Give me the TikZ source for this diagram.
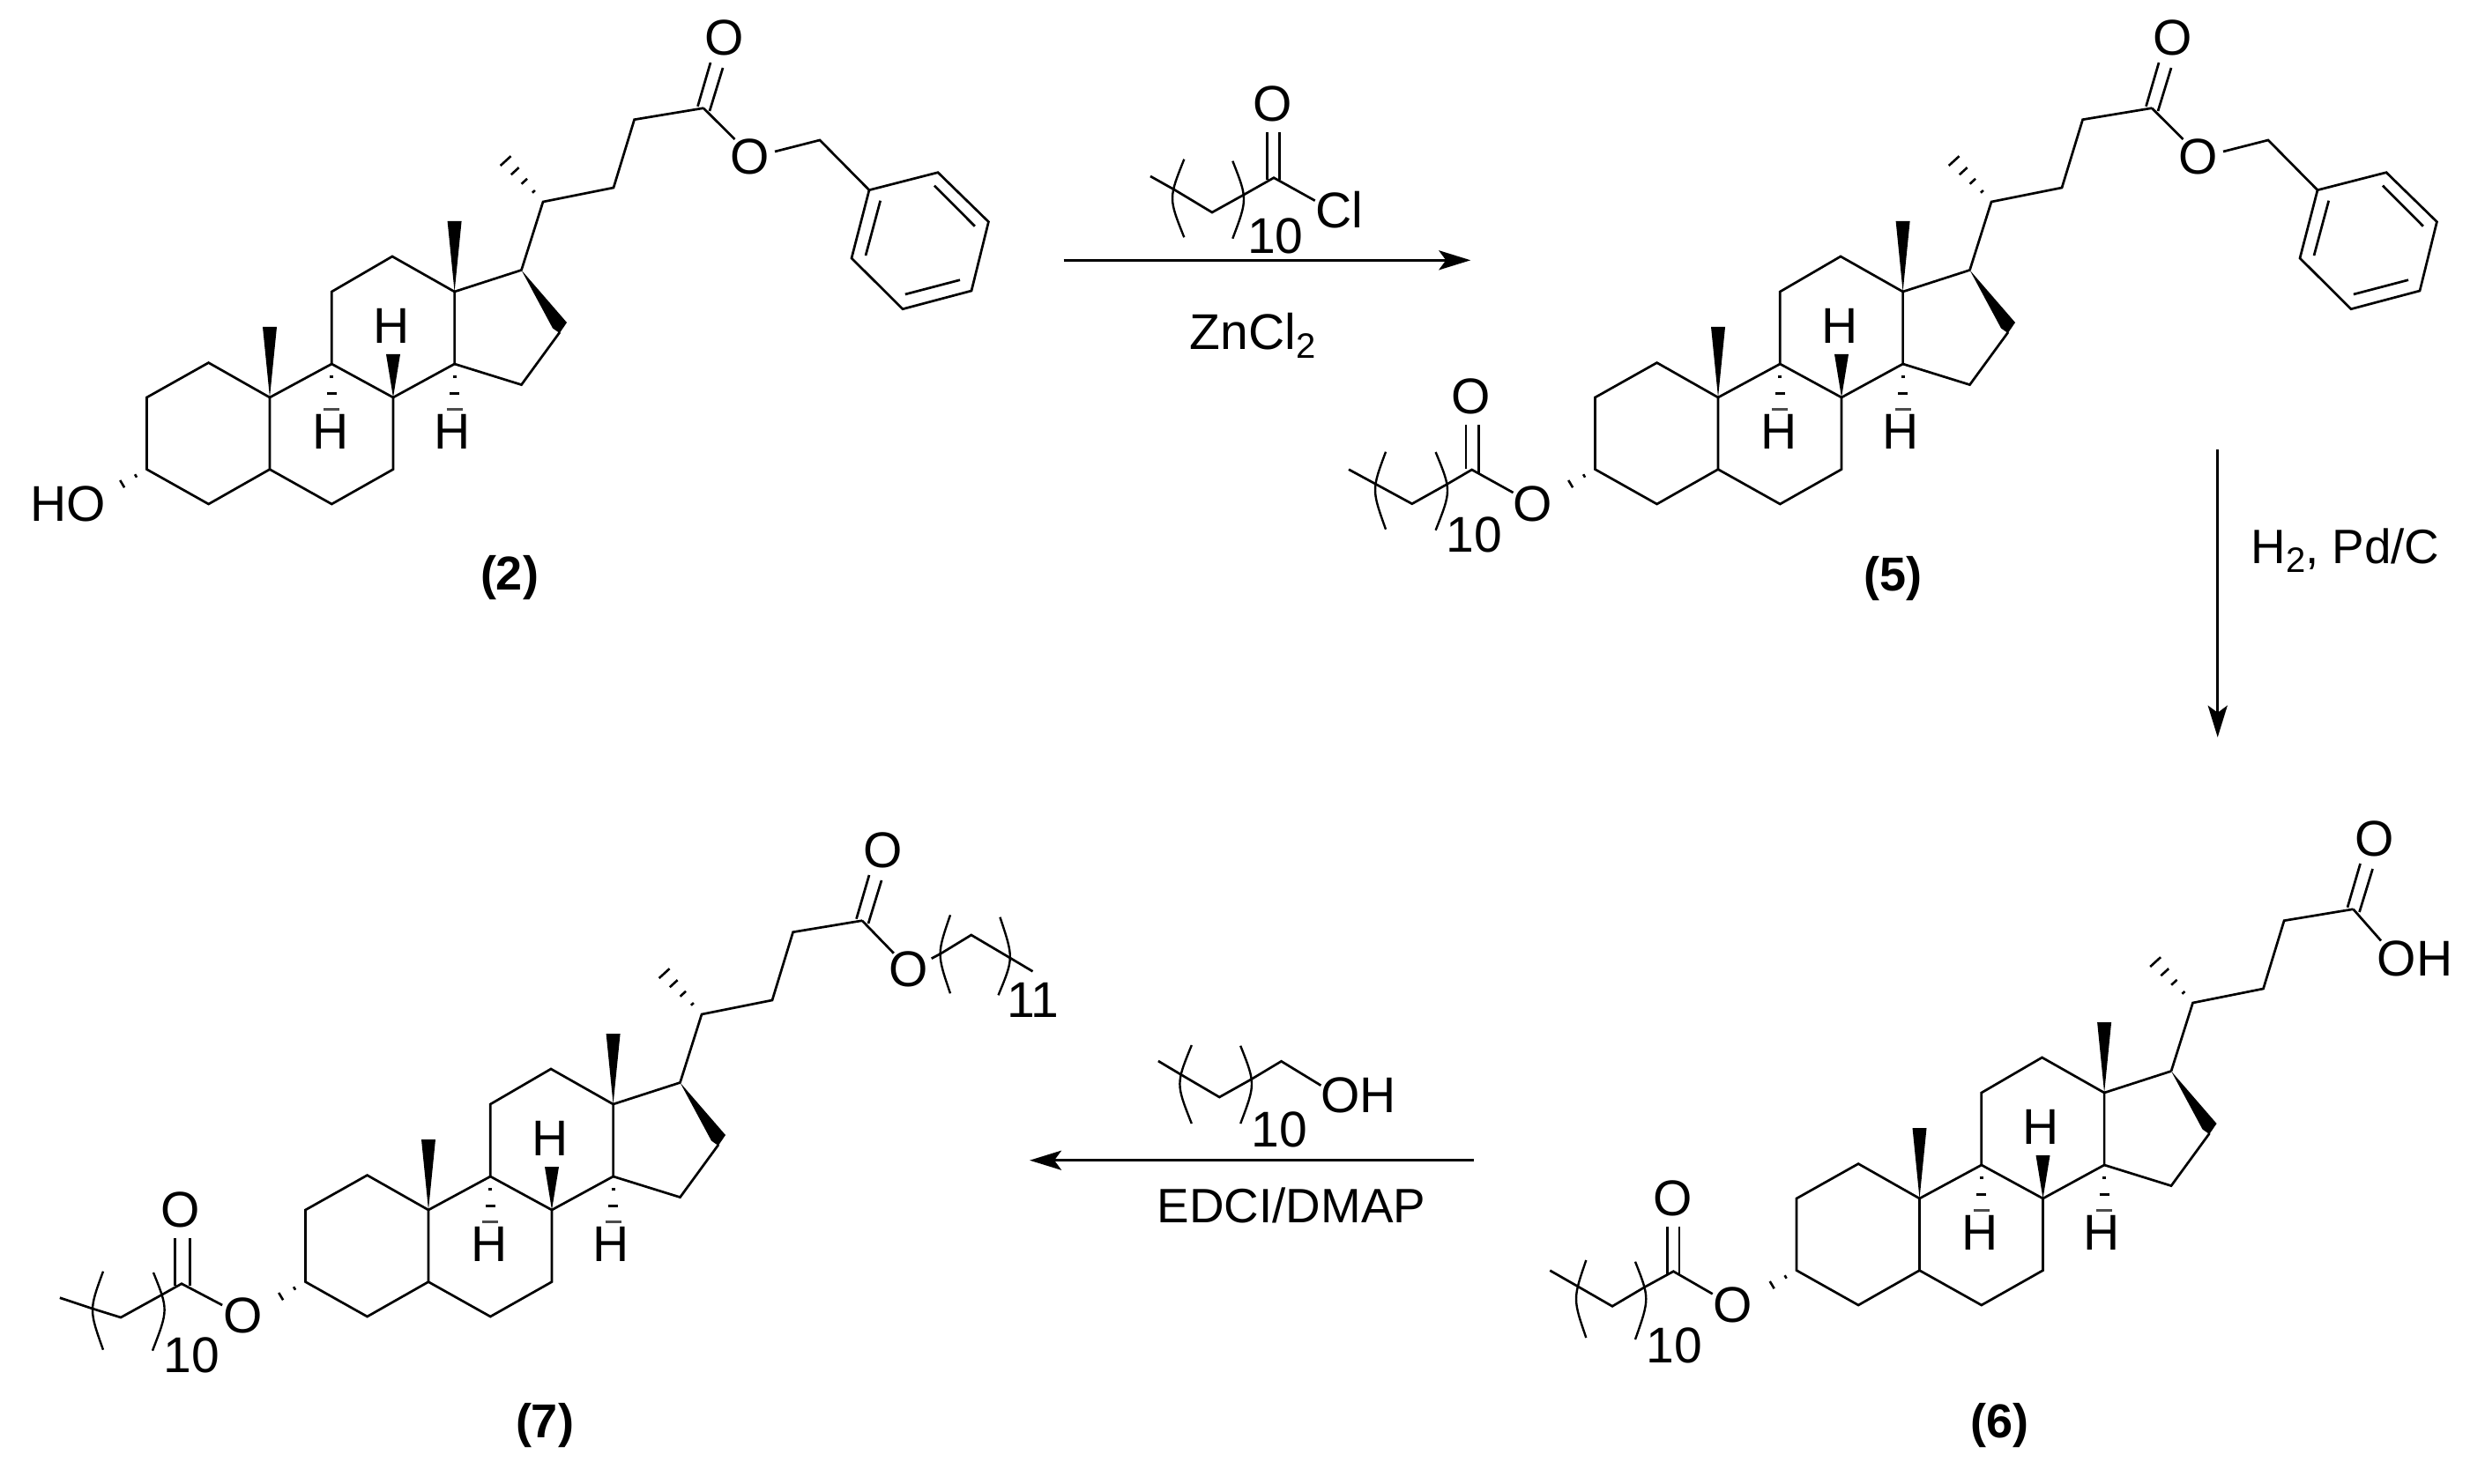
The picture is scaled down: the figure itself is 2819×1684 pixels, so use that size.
\documentclass[tikz,border=0pt]{standalone}
\usepackage{fontspec}
\setmainfont{Liberation Sans}
\usetikzlibrary{calc,arrows.meta}
\tikzset{
  bond/.style={line width=1.35pt,black,line join=miter},
  thinbond/.style={line width=1.2pt,black},
  rxn/.style={line width=1.7pt,black,-{Stealth[length=18pt,width=11pt,inset=4pt]}},
  atom/.style={font=\fontsize{28.5}{30}\selectfont,inner sep=0pt,text=black},
  reagent/.style={font=\fontsize{27.4}{30}\selectfont,inner sep=0pt,text=black},
  cmpd/.style={font=\fontsize{27}{30}\selectfont\bfseries,inner sep=0pt,text=black},
}
\newcommand\subtwo{\raisebox{-5pt}{\fontsize{20}{20}\selectfont 2}}
% a curved bracket through three points
\newcommand\brk[3]{\draw[thinbond] #1 .. controls ($#1!.5!#3!1.333!#2$) .. #3;}
% hashed bond from #1 to #2; #3 is a list of position/half-width
\newcommand\hashb[3]{\foreach \t/\w in {#3}{\draw[line width=1.3pt,black] ($#1!\t!#2!\w pt!90:#2$) -- ($#1!\t!#2!\w pt!-90:#2$);}}
% steroid skeleton with side chain up to the carbonyl C
\newcommand\stcore[1]{
  \coordinate (#1c1) at (236.6,411.6); \coordinate (#1c2) at (166.5,451);
  \coordinate (#1c3) at (166.5,532.6); \coordinate (#1c4) at (236.6,572);
  \coordinate (#1c5) at (306,532.6);   \coordinate (#1c6) at (376.3,572);
  \coordinate (#1c7) at (446,532.6);   \coordinate (#1c8) at (446,451);
  \coordinate (#1c9) at (376.3,413);   \coordinate (#1c10) at (306,451);
  \coordinate (#1c11) at (376.3,331);  \coordinate (#1c12) at (445,291);
  \coordinate (#1c13) at (515.6,331);  \coordinate (#1c14) at (515.6,413);
  \coordinate (#1c15) at (591.5,436.6);\coordinate (#1c16) at (635,377);
  \coordinate (#1c17) at (591.5,306.5);\coordinate (#1c20) at (616,229);
  \coordinate (#1c21) at (563,171);    \coordinate (#1c22) at (696,213);
  \coordinate (#1c23) at (719.6,135.7);\coordinate (#1c24) at (798,122.7);
  \draw[bond] (#1c10) -- (#1c1) -- (#1c2) -- (#1c3) -- (#1c4) -- (#1c5) -- cycle;
  \draw[bond] (#1c5) -- (#1c6) -- (#1c7) -- (#1c8) -- (#1c9) -- (#1c10);
  \draw[bond] (#1c9) -- (#1c11) -- (#1c12) -- (#1c13) -- (#1c14) -- (#1c8);
  \draw[bond] (#1c14) -- (#1c15) -- (#1c16);
  \draw[bond] (#1c13) -- (#1c17);
  \draw[bond] (#1c17) -- (#1c20) -- (#1c22) -- (#1c23) -- (#1c24);
  \draw[bond] (806,71) -- (791.5,120.7) (820,77) -- (805,126);
  \fill[black] (#1c13) -- (507.6,251) -- (523.6,251) -- cycle;
  \fill[black] (#1c10) -- (298,371) -- (314,371) -- cycle;
  \fill[black] (#1c8) -- (438,402) -- (454,402) -- cycle;
  \fill[black] (#1c17) -- (643,366) -- (634.8,378) -- (627,372.5) -- cycle;
  \coordinate (#1c2h) at (123.7,558);
  \hashb{(#1c3)}{(#1c2h)}{0.29/1,0.65/2.4,1/4}
  \hashb{(#1c20)}{(#1c21)}{0.2/1,0.4/2.2,0.6/3,0.8/4,1/5}
  \foreach \x in {376.3,515.6}{
    \draw[line width=1.3pt,black] (\x-2,427.7) -- (\x+2,427.7);
    \draw[line width=1.3pt,black] (\x-5.5,446.4) -- (\x+5.5,446.4);
    \draw[line width=1.6pt,black!70] (\x-9,464.3) -- (\x+9,464.3);
  }
  \node[atom] (#1ha) at (444,370) {H};
  \node[atom] (#1hb) at (375,490) {H};
  \node[atom] (#1hc) at (513,490) {H};
}
% carbonyl O and ester O of the benzyl ester
\newcommand\carbonylO[1]{\node[atom] (#1ocarb) at (822,42.5) {O};}
\newcommand\benzyl[1]{
  \carbonylO{#1}
  \node[atom] (#1oest) at (851,178) {O};
  \coordinate (#1ch2) at (930,159);
  \coordinate (#1r1) at (986,215.7); \coordinate (#1r2) at (1064,195.7);
  \coordinate (#1r3) at (1121.4,251.7); \coordinate (#1r4) at (1102,330);
  \coordinate (#1r5) at (1024,350.7); \coordinate (#1r6) at (966,293);
  \draw[bond] (#1c24) -- (833.5,158);
  \draw[bond] (879,172) -- (#1ch2) -- (#1r1);
  \draw[bond] (#1r1) -- (#1r2) -- (#1r3) -- (#1r4) -- (#1r5) -- (#1r6) -- cycle;
  \draw[bond] (998.7,227.7) -- (982,290) (1060,210.7) -- (1105.8,256.7) (1089,317.7) -- (1026.8,334);
}
\begin{document}
\begin{tikzpicture}[x=0.5pt,y=-0.5pt]
\useasboundingbox (0,0) rectangle (2819,1684);
\fill[white] (0,0) rectangle (2819,1684);

% ---------- (2)
\begin{scope}
  \stcore{a}
  \benzyl{a}
  \node[atom] (aho) at (77,572) {HO};
  \node[cmpd] (alab) at (578,656) {(2)};
\end{scope}

% ---------- (5)
\begin{scope}[shift={(1643,0)}]
  \stcore{b}
  \benzyl{b}
  \node[cmpd] (blab) at (504,657) {(5)};
\end{scope}
\node[atom] (boa) at (1738.8,571.7) {O};
\node[atom] (bob) at (1668.7,450) {O};
\node[atom] (bten) at (1672,607) {10};
\coordinate (bk) at (1669.6,533);
\draw[bond] (1530,532.7) -- (1560,549) -- (1601.8,571.7) -- (1640.6,550) -- (bk) -- (1716.5,559);
\draw[bond] (1663,482) -- (1663,532) (1677.7,482) -- (1677.7,537);
\brk{(1572,512.7)}{(1560,556)}{(1572,600.7)}
\brk{(1628.6,513)}{(1642,556.7)}{(1628.6,601.7)}

% ---------- (6)
\begin{scope}[shift={(1871.5,909)}]
  \stcore{c}
  \carbonylO{c}
  \node[atom] (coh) at (868,178.5) {OH};
  \draw[bond] (cc24) -- (829.5,158.5);
  \node[cmpd] (clab) at (396.5,708.5) {(6)};
\end{scope}
\node[atom] (coa) at (1966,1481) {O};
\node[atom] (cob) at (1897.7,1360) {O};
\node[atom] (cten) at (1899,1526.7) {10};
\coordinate (ck) at (1898.3,1442.7);
\draw[bond] (1758.3,1441.7) -- (1789,1459.3) -- (1829,1482.3) -- (1866.7,1460) -- (ck) -- (1942.7,1468.3);
\draw[bond] (1891.7,1391.7) -- (1891.7,1446) (1905,1391.7) -- (1905,1446);
\brk{(1799.3,1430)}{(1788,1474)}{(1799.3,1518)}
\brk{(1855,1431.7)}{(1867.3,1474)}{(1855,1520)}

% ---------- (7)
\begin{scope}[shift={(180,922)}]
  \stcore{d}
  \carbonylO{d}
  \node[atom] (doest) at (851,178) {O};
  \draw[bond] (dc24) -- (833.8,159.7);
  \node[cmpd] (dlab) at (438,696) {(7)};
\end{scope}
\draw[bond] (1056.7,1087.7) -- (1067.4,1082) -- (1101.8,1061) -- (1145.8,1087) -- (1171.5,1102.3);
\brk{(1078,1038.3)}{(1066.6,1082.7)}{(1078,1127.3)}
\brk{(1134.4,1040.7)}{(1145.8,1086.7)}{(1132.5,1129.3)}
\node[atom] (dele) at (1172,1135) {11};
\node[atom] (doa) at (275.4,1493.3) {O};
\node[atom] (dob) at (205,1372.7) {O};
\node[atom] (dten) at (217.4,1538.3) {10};
\coordinate (dk) at (206,1456.7);
\draw[bond] (67.9,1472.7) -- (104.9,1485) -- (137,1495) -- (185.3,1468.3) -- (dk) -- (252.2,1481);
\draw[bond] (198.7,1405) -- (198.7,1459) (215.2,1405) -- (215.2,1459);
\brk{(117,1442.7)}{(105,1486.7)}{(117,1531.7)}
\brk{(174,1444)}{(186.6,1486.7)}{(173,1532.7)}

% ---------- reagent over the first arrow
\node[atom] (rao) at (1443.3,118.3) {O};
\node[atom] (racl) at (1519,238.3) {Cl};
\node[atom] (raten) at (1446.7,268.3) {10};
\coordinate (rak) at (1445,201.7);
\draw[bond] (1305,200) -- (1331.7,215) -- (1375,241) -- (1411,221) -- (rak) -- (1491.7,227.7);
\draw[bond] (1437.3,150) -- (1437.3,204) (1451.7,150) -- (1451.7,204);
\brk{(1343.3,180.7)}{(1330,225)}{(1343.3,269.3)}
\brk{(1398.3,182.7)}{(1411,226)}{(1398.3,270.7)}
\coordinate (a1s) at (1206.7,295.3);
\coordinate (a1e) at (1668.3,295.3);
\draw[rxn] (a1s) -- (a1e);
\node[atom,anchor=base] (raz) at (1421,396.7) {ZnCl\subtwo};

% ---------- second arrow
\coordinate (a2s) at (2515.7,510);
\coordinate (a2e) at (2515.7,836.7);
\draw[rxn] (a2s) -- (a2e);
\node[reagent,anchor=base west] (rbh) at (2553,639.3) {H\subtwo, Pd/C};

% ---------- reagent over the third arrow
\node[atom] (rcoh) at (1541,1243.3) {OH};
\node[atom] (rcten) at (1451,1281.7) {10};
\draw[bond] (1313.9,1204) -- (1339.5,1219.3) -- (1383.3,1245) -- (1419,1225) -- (1453.5,1204.3) -- (1498.4,1231.7);
\brk{(1351.8,1186)}{(1338.4,1230)}{(1351.8,1275)}
\brk{(1407.2,1186.7)}{(1420,1230)}{(1407.2,1275)}
\coordinate (a3s) at (1672,1316.7);
\coordinate (a3e) at (1168,1316.7);
\draw[rxn] (a3s) -- (a3e);
\node[reagent,anchor=base] (rced) at (1465,1387.3) {EDCI/DMAP};
\end{tikzpicture}
\end{document}
